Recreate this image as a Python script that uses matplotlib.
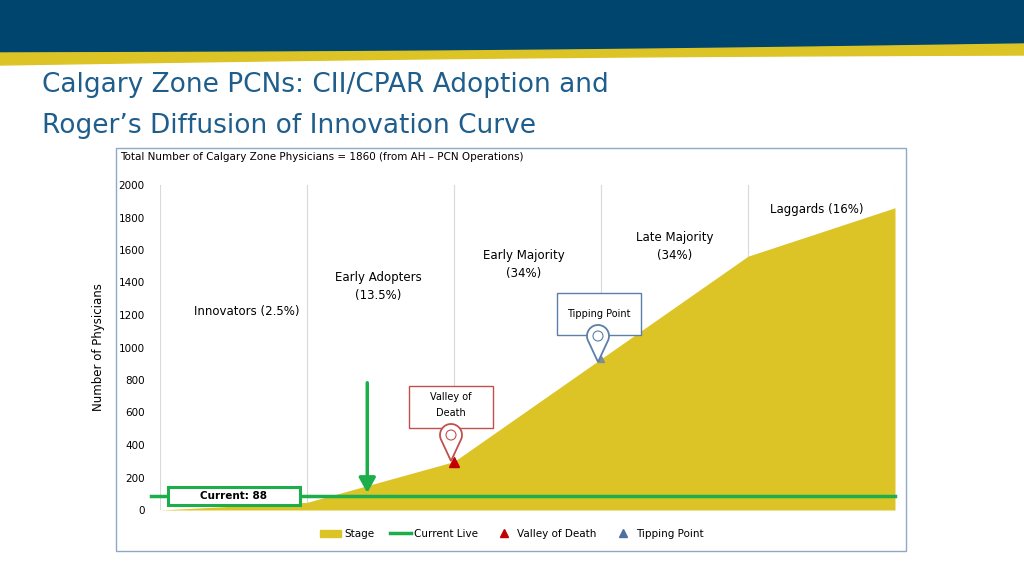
import matplotlib.pyplot as plt
import numpy as np
from matplotlib.patches import Rectangle, Polygon, Patch, Circle
from matplotlib.lines import Line2D

stages = ["Start", "Innovators", "Early Adopters", "Early Majority", "Late Majority", "Laggards"]
cumulative = [0, 47, 298, 930, 1562, 1860]
current = 88
stage_labels = ["Innovators (2.5%)", "Early Adopters\n(13.5%)", "Early Majority\n(34%)",
                "Late Majority\n(34%)", "Laggards (16%)"]

NAVY = "#00456E"
GOLD = "#DDC426"
GREEN = "#1BAE4B"

fig = plt.figure(figsize=(10.24, 5.76), dpi=100)

# banner and frame, in pixel coords
bg = fig.add_axes([0, 0, 1, 1], zorder=-5)
bg.set_xlim(0, 1024); bg.set_ylim(576, 0); bg.axis("off")
xs = np.linspace(0, 1024, 200)
t = xs / 1024
navy_bottom = 53 - 9 * t + 2 * np.sin(np.pi * t)
gold_bottom = 65 - 10 * t - 2 * np.sin(np.pi * t)
bg.fill_between(xs, 0, navy_bottom, color=NAVY)
bg.fill_between(xs, navy_bottom, gold_bottom, color=GOLD)
bg.text(42, 85, "Calgary Zone PCNs: CII/CPAR Adoption and", fontsize=19, color="#1F5E8C", va="center")
bg.text(42, 126, "Roger\u2019s Diffusion of Innovation Curve", fontsize=19, color="#1F5E8C", va="center")
bg.add_patch(Rectangle((116, 148), 790, 403, fill=False, ec="#8EA9C8", lw=1))
bg.text(120, 157, "Total Number of Calgary Zone Physicians = 1860 (from AH \u2013 PCN Operations)",
        fontsize=7.5, va="center")

ax = fig.add_axes([160 / 1024, 1 - 510 / 576, 735 / 1024, 325 / 576])
x = np.arange(len(stages))
ax.fill_between(x, 0, cumulative, color=GOLD, lw=0, zorder=2)
ax.axhline(current, color=GREEN, lw=2.5, zorder=4, xmin=-0.012, clip_on=False)
ax.set_xlim(0, 5)
ax.set_ylim(0, 2000)
ax.set_yticks(range(0, 2001, 200))
ax.tick_params(axis="y", length=0, labelsize=7.5, pad=11)
ax.set_xticks(x)
ax.tick_params(axis="x", length=0, labelbottom=False)
ax.grid(axis="x", color="#D9D9D9", lw=0.8, zorder=0)
for s in ax.spines.values():
    s.set_visible(False)
ax.set_ylabel("Number of Physicians", fontsize=8.5, labelpad=10)

ax.annotate("", xy=(1.41, current), xytext=(1.41, 800),
            arrowprops=dict(arrowstyle="-|>,head_width=0.5,head_length=0.9", color=GREEN, lw=2.5), zorder=5)
ax.plot(2, cumulative[2], marker="^", color="#C00000", ms=7, zorder=5)
ax.plot(3, cumulative[3], marker="^", color="#7F8C99", ms=5, zorder=5)

# overlay for boxes, pins and labels (pixel coords)
ov = fig.add_axes([0, 0, 1, 1], zorder=10)
ov.set_xlim(0, 1024); ov.set_ylim(576, 0); ov.axis("off")
ov.patch.set_alpha(0)

label_px = [(247, 312), (378, 287), (524, 265), (675, 247), (817, 210)]
for lbl, (px, py) in zip(stage_labels, label_px):
    ov.text(px, py, lbl, fontsize=8.5, ha="center", va="center", linespacing=1.5)

ov.add_patch(Rectangle((168, 487), 132, 18, fc="white", ec=GREEN, lw=2.2))
ov.text(234, 496, "Current: 88", fontsize=7.5, fontweight="bold", ha="center", va="center")

for (bx, by, bw, bh, txt, col, tipx, tipy) in [
        (409, 386, 84, 42, "Valley of\nDeath", "#C0504D", 451, 461),
        (557, 293, 84, 42, "Tipping Point", "#5B7FA6", 598, 362)]:
    ov.add_patch(Rectangle((bx, by), bw, bh, fc="white", ec=col, lw=1))
    ov.text(bx + bw / 2, by + bh / 2 - (2 if "\n" in txt else 0), txt, fontsize=7, ha="center",
            va="center", linespacing=1.8)
    r = 11
    cy = tipy - 26
    ang = np.linspace(np.deg2rad(-30), np.deg2rad(210), 60)
    pts = [[tipx, tipy]] + [[tipx + r * np.cos(a), cy - r * np.sin(a)] for a in ang]
    ov.add_patch(Polygon(pts, closed=True, fc="white", ec=col, lw=1.3))
    ov.add_patch(Circle((tipx, cy), 5, fc="white", ec=col, lw=0.8))

handles = [Patch(color=GOLD), Line2D([], [], color=GREEN, lw=2.5),
           Line2D([], [], marker="^", color="#C00000", ls="none", ms=6),
           Line2D([], [], marker="^", color="#4F6FA0", ls="none", ms=6)]
fig.legend(handles, ["Stage", "Current Live", "Valley of Death", "Tipping Point"], loc="center",
           bbox_to_anchor=(0.5, 1 - 534 / 576), ncol=4, frameon=False, fontsize=7.5,
           handlelength=2, columnspacing=1.5, handletextpad=0.3)

fig.savefig("out.png", dpi=100)
